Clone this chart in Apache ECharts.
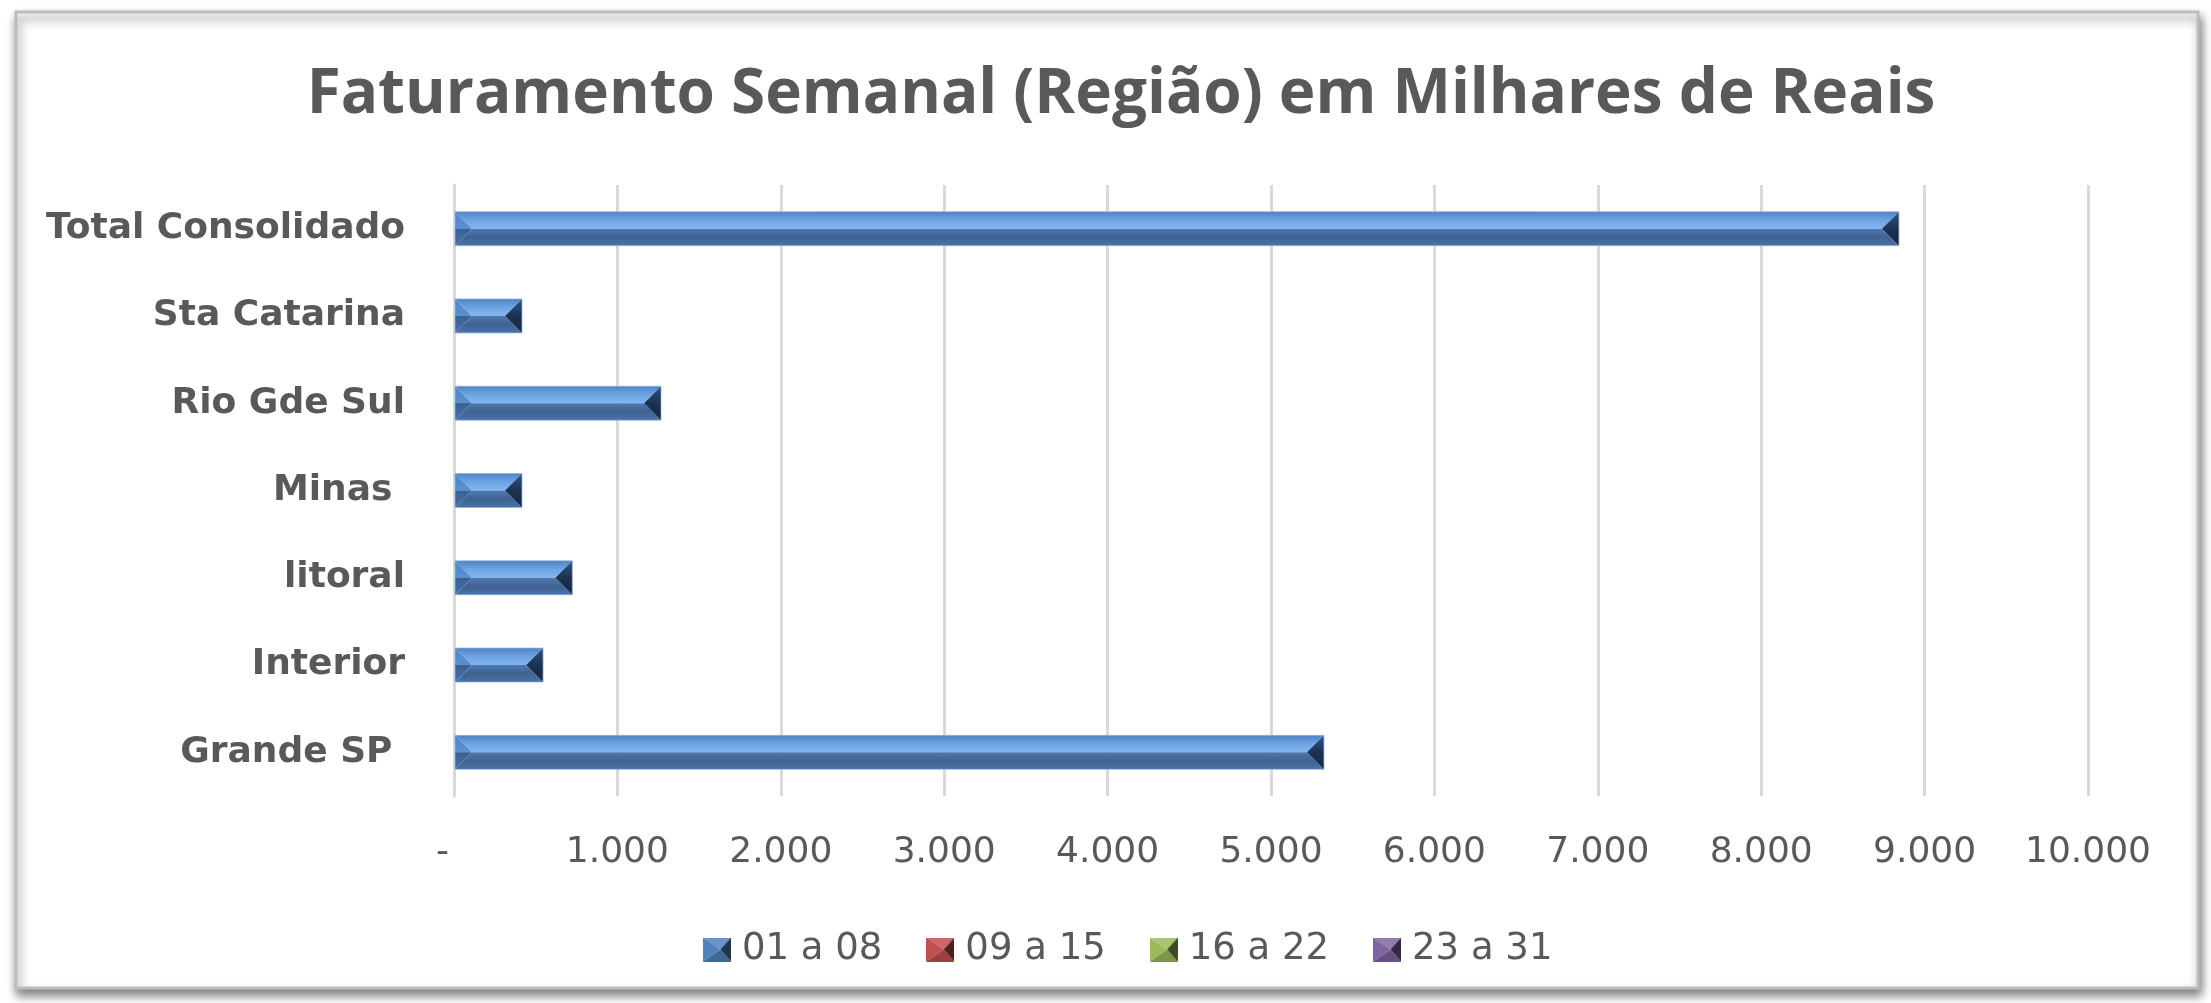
<!DOCTYPE html>
<html>
<head>
<meta charset="utf-8">
<script src="https://cdn.jsdelivr.net/npm/echarts@6/dist/echarts.min.js"></script>
<style>
html,body{margin:0;padding:0;background:#fff;}
#c{width:2211px;height:1003px;}
</style>
</head>
<body>
<div id="c"></div>
<script>
var categories = ['Grande SP ', 'Interior', 'litoral', 'Minas ', 'Rio Gde Sul', 'Sta Catarina', 'Total Consolidado'];
var seriesNames = ['01 a 08', '09 a 15', '16 a 22', '23 a 31'];
var values0108 = [5324, 545, 724, 416, 1267, 416, 8843];
var values0915 = [];
var values1622 = [];
var values2331 = [];
var seriesColors = ['#4f81bd', '#c0504d', '#9bbb59', '#8064a2'];

var chart = echarts.init(document.getElementById('c'), null, {renderer: 'canvas'});
var G = echarts.graphic;

function lg(stops) {
  return new G.LinearGradient(0, 0, 0, 1, stops.map(function (s) { return {offset: s[0], color: s[1]}; }));
}

function shade(hex, f) {
  var n = parseInt(hex.slice(1), 16);
  var r = (n >> 16) & 255, g = (n >> 8) & 255, b = n & 255;
  function c(x) { return Math.max(0, Math.min(255, Math.round(f >= 0 ? x + (255 - x) * f : x * (1 + f)))); }
  return 'rgb(' + c(r) + ',' + c(g) + ',' + c(b) + ')';
}

function pyramidIcon(color) {
  var w = 28, h = 24;
  var cv = document.createElement('canvas');
  cv.width = w; cv.height = h;
  var ctx = cv.getContext('2d');
  var cx = w * 0.62, cy = h / 2;
  function tri(pts, col) {
    ctx.beginPath(); ctx.moveTo(pts[0][0], pts[0][1]);
    for (var i = 1; i < pts.length; i++) ctx.lineTo(pts[i][0], pts[i][1]);
    ctx.closePath(); ctx.fillStyle = col; ctx.fill();
  }
  tri([[0, 0], [w, 0], [cx, cy]], shade(color, 0.15));
  tri([[0, h], [w, h], [cx, cy]], shade(color, -0.2));
  tri([[0, 0], [cx, cy], [0, h]], shade(color, 0));
  tri([[w, 0], [cx, cy], [w, h]], shade(color, -0.6));
  return 'image://' + cv.toDataURL();
}

function renderBevelBar(params, api) {
  var v = api.value(0);
  var idx = api.value(1);
  var p0 = api.coord([0, idx]);
  var p1 = api.coord([v, idx]);
  var h = 34;
  var x0 = p0[0] + 1, x1 = p1[0];
  var y0 = p0[1] - h / 2, y1 = p0[1] + h / 2, ym = p0[1];
  var b = Math.min(17, (x1 - x0) / 2);
  return {
    type: 'group',
    children: [
      {type: 'polygon', shape: {points: [[x0, y0], [x1, y0], [x1 - b, ym], [x0 + b, ym]]},
        style: {fill: lg([[0, '#4f83c4'], [0.5, '#6fa4e4'], [1, '#82b6f2']])}},
      {type: 'polygon', shape: {points: [[x0, y1], [x1, y1], [x1 - b, ym], [x0 + b, ym]]},
        style: {fill: lg([[0, '#4f79af'], [0.5, '#3f6291'], [1, '#4a73a8']])}},
      {type: 'polygon', shape: {points: [[x0, y0], [x0 + b, ym], [x0, y1]]},
        style: {fill: lg([[0, '#4f86c8'], [0.5, '#5a8fd2'], [0.51, '#3b6192'], [1, '#4670a6']])}},
      {type: 'polygon', shape: {points: [[x1, y0], [x1 - b, ym], [x1, y1]]},
        style: {fill: lg([[0, '#2f5385'], [0.5, '#1c3253'], [1, '#15263f']])}},
      {type: 'rect', shape: {x: x0, y: y0, width: x1 - x0, height: h},
        style: {fill: 'none', stroke: 'rgba(150,180,220,0.7)', lineWidth: 1}}
    ]
  };
}

var option = {
  backgroundColor: 'transparent',
  animation: false,
  graphic: [{
    type: 'rect', z: -100, zlevel: 0, silent: true,
    shape: {x: 16, y: 12, width: 2182, height: 976},
    style: {fill: '#ffffff', stroke: '#bcbcbc', lineWidth: 3,
      shadowBlur: 10, shadowColor: 'rgba(0,0,0,0.5)', shadowOffsetX: 2, shadowOffsetY: 6}
  }],
  title: {
    text: 'Faturamento Semanal (Região) em Milhares de Reais',
    left: 1121, top: 64, textAlign: 'center', padding: 0,
    textStyle: {fontFamily: 'Open Sans', fontWeight: 'bold', fontSize: 62, color: '#595959'}
  },
  legend: {
    data: seriesNames.map(function (n, i) { return {name: n, icon: pyramidIcon(seriesColors[i])}; }),
    left: 698, top: 926,
    itemWidth: 28, itemHeight: 24, itemGap: 44,
    textStyle: {fontFamily: 'DejaVu Sans', fontSize: 37, color: '#595959', padding: [0, 0, 0, 6]}
  },
  grid: {left: 454, right: 123, top: 185, bottom: 207, containLabel: false},
  xAxis: {
    type: 'value', min: 0, max: 10000, interval: 1000,
    axisLine: {show: false}, axisTick: {show: false},
    splitLine: {show: true, lineStyle: {color: '#d9d9d9', width: 3}},
    axisLabel: {
      margin: 39, fontFamily: 'DejaVu Sans', fontSize: 36, color: '#595959',
      formatter: function (v) {
        if (v === 0) return '-  ';
        return String(v).replace(/\B(?=(\d{3})+(?!\d))/g, '.');
      }
    }
  },
  yAxis: {
    type: 'category', data: categories,
    axisLine: {show: true, lineStyle: {color: '#d9d9d9', width: 3}},
    axisTick: {show: false},
    axisLabel: {margin: 49, fontFamily: 'DejaVu Sans', fontWeight: 'bold', fontSize: 36, color: '#595959'}
  },
  series: [
    {
      name: seriesNames[0], type: 'custom',
      itemStyle: {color: seriesColors[0]},
      encode: {x: 0, y: 1},
      data: values0108.map(function (v, i) { return [v, i]; }),
      renderItem: renderBevelBar, z: 5
    },
    {name: seriesNames[1], type: 'bar', data: values0915, itemStyle: {color: seriesColors[1]}},
    {name: seriesNames[2], type: 'bar', data: values1622, itemStyle: {color: seriesColors[2]}},
    {name: seriesNames[3], type: 'bar', data: values2331, itemStyle: {color: seriesColors[3]}}
  ]
};
chart.setOption(option);
</script>
</body>
</html>
